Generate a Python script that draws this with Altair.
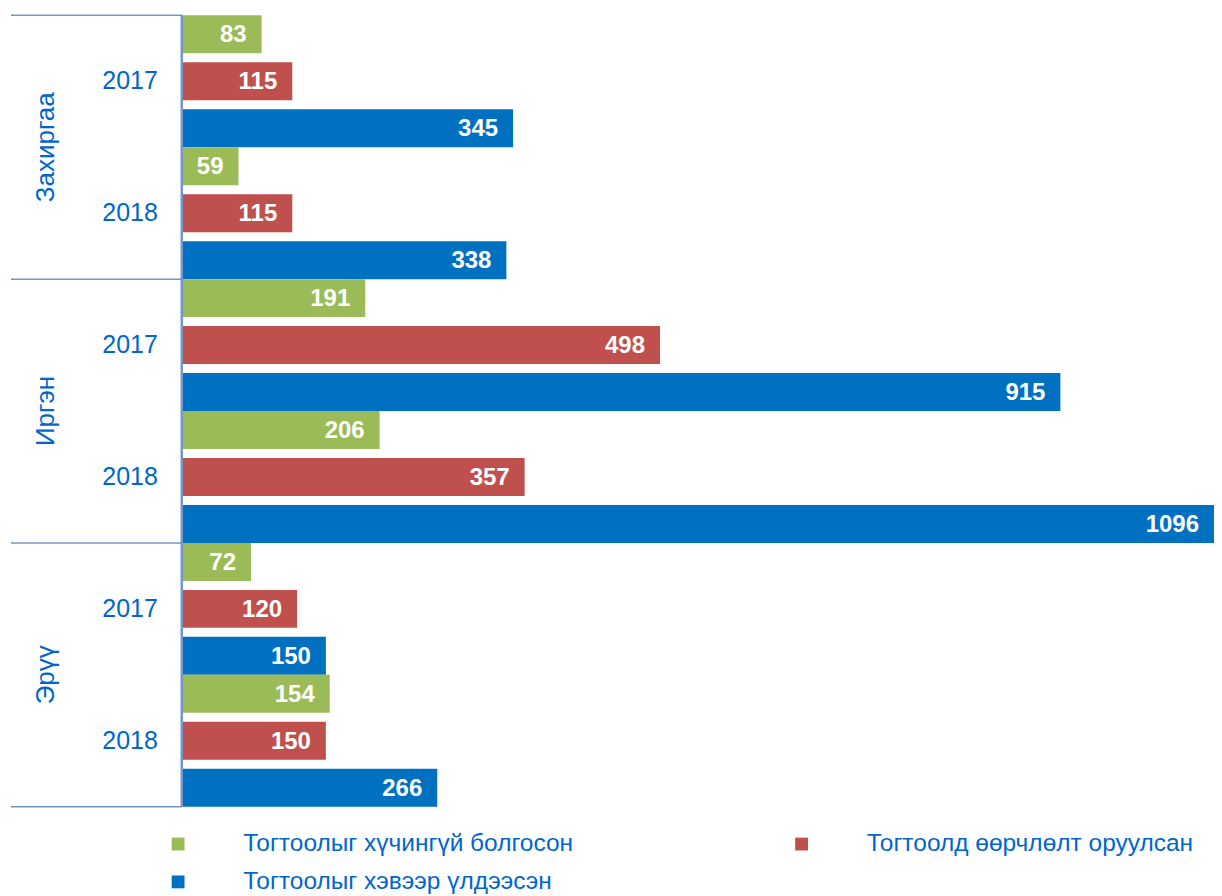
import altair as alt
import pandas as pd

categories = ["Захиргаа", "Иргэн", "Эрүү"]
years = ["2017", "2018"]
series = [
    "Тогтоолыг хүчингүй болгосон",
    "Тогтоолд өөрчлөлт оруулсан",
    "Тогтоолыг хэвээр үлдээсэн",
]
colors = ["#9BBB59", "#C0504D", "#0070C0"]

# values[category][year] -> [series0, series1, series2]
values_zakhirgaa = [[83, 115, 345], [59, 115, 338]]
values_irgen = [[191, 498, 915], [206, 357, 1096]]
values_eruu = [[72, 120, 150], [154, 150, 266]]
all_values = [values_zakhirgaa, values_irgen, values_eruu]

# layout units (one unit = one pixel of plot height)
GROUP = 132
OFFSETS = [0, 47, 94]
BAR_H = 38
TOTAL = GROUP * len(categories) * len(years)
XMAX = 1075
TEXT_BLUE = "#0066CC"
LINE_C = "#7396CA"
FONT = "Liberation Sans"

rows = []
for ci, cat in enumerate(categories):
    for yi, yr in enumerate(years):
        g = ci * len(years) + yi
        for si, s in enumerate(series):
            top = g * GROUP + OFFSETS[si]
            rows.append({
                "category": cat, "year": yr, "series": s,
                "value": all_values[ci][yi][si],
                "y0": top, "y1": top + BAR_H, "ym": top + BAR_H / 2,
            })
df = pd.DataFrame(rows)

year_rows = []
for ci, cat in enumerate(categories):
    for yi, yr in enumerate(years):
        g = ci * len(years) + yi
        year_rows.append({"label": yr, "ym": g * GROUP + GROUP / 2})
df_years = pd.DataFrame(year_rows)

df_cats = pd.DataFrame({
    "label": categories,
    "ym": [(ci + 0.5) * GROUP * len(years) for ci in range(len(categories))],
})
df_sep = pd.DataFrame({"yp": [ci * GROUP * len(years) for ci in range(len(categories) + 1)]})

yscale = alt.Scale(domain=[0, TOTAL], reverse=True, nice=False, zero=False)
xscale = alt.Scale(domain=[0, XMAX], clamp=True, nice=False)

bars = alt.Chart(df).mark_bar().encode(
    x=alt.X("value:Q", scale=xscale, axis=None),
    x2=alt.datum(0),
    y=alt.Y("y0:Q", scale=yscale, axis=None),
    y2="y1:Q",
    color=alt.Color(
        "series:N",
        scale=alt.Scale(domain=series, range=colors),
        legend=alt.Legend(
            title=None, orient="none", legendX=-16, legendY=817,
            values=[series[0], series[2], series[1]],
            columns=2, symbolType="square", symbolSize=165, symbolStrokeWidth=0,
            labelOffset=53, labelFontSize=24.5, labelColor=TEXT_BLUE, labelFont=FONT,
            columnPadding=216, rowPadding=13, labelLimit=0, padding=0,
        ),
    ),
)

labels = alt.Chart(df).mark_text(
    align="right", baseline="middle", dx=-15, dy=1, fontSize=24, fontWeight="bold",
    color="white", font=FONT,
).encode(
    x=alt.X("value:Q", scale=xscale, axis=None),
    y=alt.Y("ym:Q", scale=yscale, axis=None),
    text="value:Q",
)

year_text = alt.Chart(df_years).mark_text(
    align="right", baseline="middle", fontSize=25, color=TEXT_BLUE, font=FONT,
).encode(
    x=alt.value(-24),
    y=alt.Y("ym:Q", scale=yscale, axis=None),
    text="label:N",
)

cat_text = alt.Chart(df_cats).mark_text(
    align="center", baseline="middle", fontSize=26, color=TEXT_BLUE, font=FONT, angle=270,
).encode(
    x=alt.value(-136),
    y=alt.Y("ym:Q", scale=yscale, axis=None),
    text="label:N",
)

seps = alt.Chart(df_sep).mark_rule(color=LINE_C, strokeWidth=1.5).encode(
    x=alt.value(-171), x2=alt.value(0),
    y=alt.Y("yp:Q", scale=yscale, axis=None),
)

vline = alt.Chart(df_sep).mark_rule(color=LINE_C, strokeWidth=2).encode(
    x=alt.value(0),
    y=alt.datum(0, scale=yscale),
    y2=alt.datum(TOTAL),
)

chart = alt.layer(seps, bars, labels, year_text, cat_text, vline).properties(
    width=1033, height=TOTAL,
    padding={"left": 2, "top": 6, "right": 0, "bottom": 0},
).configure_view(stroke=None)

chart.save("out.html", embed_options={"renderer": "svg", "actions": False})
